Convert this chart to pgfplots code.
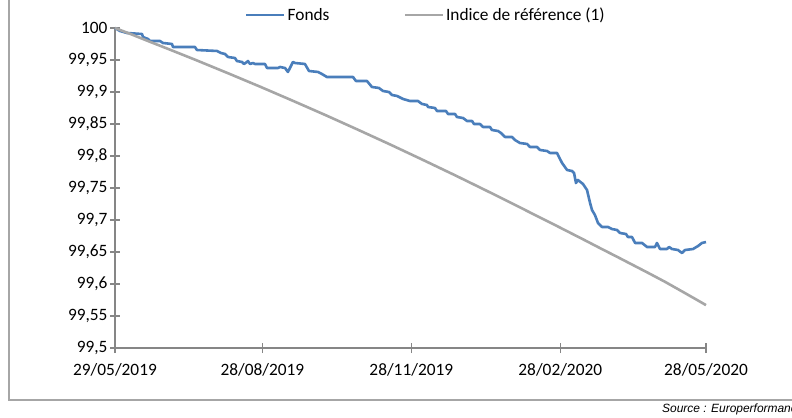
\documentclass[border=0pt]{standalone}
\usepackage{pgfplots}
\pgfplotsset{compat=1.18}
\usepackage{fontspec}
\setmainfont{Carlito}
\newfontfamily\arialfont{Liberation Sans}
\definecolor{fonds}{RGB}{74,126,187}
\definecolor{indice}{RGB}{166,166,166}
\definecolor{axisgray}{RGB}{134,134,134}
\definecolor{framegray}{RGB}{166,166,166}

\begin{document}
\begin{tikzpicture}[x=1bp,y=1bp]
\useasboundingbox (0,0) rectangle (792,417);
\draw[framegray, line width=2bp] (9,430) -- (9,17) -- (800,17);
\node[anchor=base west, font=\arialfont\itshape\fontsize{12}{14}\selectfont, inner sep=0] at (662,5) {Source : Europerformance};
\begin{axis}[
  at={(115bp,69bp)}, anchor=south west,
  scale only axis, width=591bp, height=320bp,
  xmin=0, xmax=365, ymin=99.5, ymax=100,
  axis x line*=bottom, axis y line*=left,
  axis line style={axisgray, line width=1.3bp},
  xtick={0,91,183,275,365},
  xticklabels={29/05/2019,28/08/2019,28/11/2019,28/02/2020,28/05/2020},
  ytick={99.5,99.55,99.6,99.65,99.7,99.75,99.8,99.85,99.9,99.95,100},
  yticklabels={{99,5},{99,55},{99,6},{99,65},{99,7},{99,75},{99,8},{99,85},{99,9},{99,95},{100}},
  tick align=center, major tick length=10bp,
  tick style={axisgray, line width=1.3bp},
  ticklabel style={font=\fontsize{17.4}{20}\selectfont},
  xticklabel style={yshift=-7bp},
  yticklabel style={xshift=1bp},
  clip=false,
  legend columns=2,
  legend style={at={(0.526,1.041)}, anchor=center, draw=none, fill=none,
    font=\fontsize{17.4}{20}\selectfont,
    /tikz/every even column/.append style={column sep=72bp}},
  legend image code/.code={\draw[#1] (0bp,0bp) -- (38bp,0bp);},
]
\addplot[fonds, line width=2.6bp, line join=round] coordinates {
(0,100.0000) (3.1,99.9953) (7.4,99.9922) (16.7,99.9906) (17.3,99.9859) (20.4,99.9828)
(21.6,99.9797) (27.8,99.9797) (29.6,99.9766) (35.2,99.9750) (35.8,99.9703) (49.4,99.9703)
(50.6,99.9656) (63.0,99.9641) (65.5,99.9609) (67.9,99.9594) (69.8,99.9547) (74.1,99.9531)
(75.3,99.9484) (78.4,99.9469) (79.7,99.9438) (81.5,99.9469) (82.1,99.9484) (83.4,99.9438)
(85.2,99.9453) (86.5,99.9438) (92.6,99.9438) (93.9,99.9375) (100.7,99.9375) (101.9,99.9391)
(105.0,99.9375) (106.8,99.9313) (109.9,99.9469) (111.2,99.9453) (117.3,99.9438) (119.8,99.9328)
(125.4,99.9313) (127.8,99.9281) (130.9,99.9234) (147.0,99.9234) (148.8,99.9172) (155.6,99.9172)
(158.7,99.9078) (163.0,99.9063) (165.5,99.9016) (169.2,99.9000) (171.1,99.8953) (174.2,99.8938)
(177.9,99.8891) (182.2,99.8859) (187.1,99.8859) (189.6,99.8813) (192.7,99.8797) (193.3,99.8766)
(197.6,99.8750) (198.9,99.8703) (204.4,99.8703) (205.7,99.8656) (210.0,99.8656) (211.2,99.8609)
(214.9,99.8594) (217.4,99.8547) (220.5,99.8547) (221.7,99.8500) (225.4,99.8500) (227.3,99.8453)
(231.6,99.8453) (232.8,99.8406) (236.5,99.8391) (238.4,99.8359) (240.9,99.8297) (245.2,99.8297)
(247.0,99.8250) (250.1,99.8203) (254.5,99.8188) (256.3,99.8141) (260.6,99.8141) (262.5,99.8094)
(266.8,99.8078) (268.7,99.8047) (273.0,99.8047) (274.2,99.7984) (276.1,99.7891) (279.2,99.7781)
(282.2,99.7766) (283.5,99.7734) (284.7,99.7578) (285.9,99.7625) (289.0,99.7563) (291.5,99.7469)
(293.4,99.7266) (294.6,99.7156) (296.4,99.7078) (298.3,99.6953) (300.8,99.6891) (304.5,99.6891)
(306.9,99.6859) (310.0,99.6844) (311.9,99.6797) (315.6,99.6781) (316.8,99.6734) (319.3,99.6734)
(321.2,99.6641) (325.5,99.6641) (328.6,99.6578) (333.5,99.6578) (334.7,99.6641) (336.6,99.6547)
(340.9,99.6547) (342.2,99.6578) (344.0,99.6547) (347.7,99.6531) (350.2,99.6484) (352.0,99.6531)
(357.0,99.6547) (360.1,99.6594) (362.5,99.6641) (365.0,99.6656)
};
\addlegendentry{Fonds}
\addplot[indice, line width=2.6bp, line join=round] coordinates {
(0,100.0000) (10,99.9902) (20,99.9800) (30,99.9701) (40,99.9600) (50,99.9499) (60,99.9395)
(70,99.9291) (80,99.9185) (90,99.9079) (100,99.8970) (110,99.8861) (120,99.8750)
(130,99.8639) (140,99.8525) (150,99.8411) (160,99.8295) (170,99.8179) (180,99.8060)
(190,99.7941) (200,99.7820) (210,99.7699) (220,99.7575) (230,99.7451) (240,99.7325)
(250,99.7199) (260,99.7070) (270,99.6944) (280,99.6815) (290,99.6686) (300,99.6555)
(310,99.6426) (320,99.6295) (330,99.6164) (340,99.6030) (350,99.5887) (358,99.5772)
(365,99.5670)
};
\addlegendentry{Indice de référence (1)}
\end{axis}
\end{tikzpicture}
\end{document}
